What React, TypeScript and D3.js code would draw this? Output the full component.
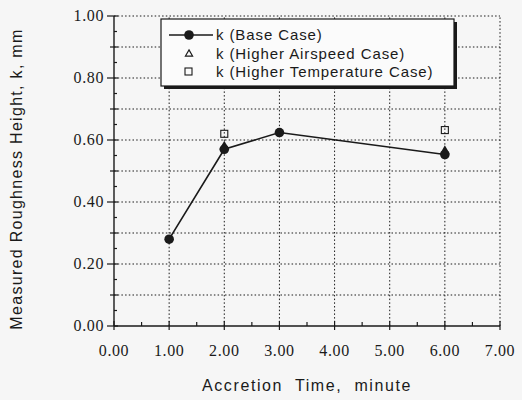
import React from "react";
import * as d3 from "d3";

const baseTimes = [1, 2, 3, 6];
const baseK = [0.28, 0.57, 0.624, 0.553];
const airTimes = [2, 6];
const airK = [0.58, 0.565];
const tempTimes = [2, 6];
const tempK = [0.62, 0.632];
const xTicks = [0, 1, 2, 3, 4, 5, 6, 7];
const yTicks = [0, 0.2, 0.4, 0.6, 0.8, 1.0];
const legendLabels = ["k (Base Case)", "k (Higher Airspeed Case)", "k (Higher Temperature Case)"];
const xTitle = "Accretion  Time,  minute";
const yTitle = "Measured Roughness Height, k, mm";

export default function App() {
  const W = 522, H = 400;
  const x = d3.scaleLinear().domain([0, 7]).range([114, 500]);
  const y = d3.scaleLinear().domain([0, 1]).range([326, 16]);
  const ink = "#1a1a1a";
  const line = d3.line<number>().x((_, i) => x(baseTimes[i])).y((d) => y(d));
  const gridY = d3.range(1, 11).map((i) => i / 10);
  const minorY = d3.range(0, 21).map((i) => i / 20);
  const minorX = d3.range(0, 15).map((i) => i / 2);
  const tri = d3.symbol().type(d3.symbolTriangle).size(40)();
  const serif = "'Liberation Serif', 'Times New Roman', serif";
  const sans = "'Liberation Sans', Arial, sans-serif";
  const lx = 161, ly = 19, lw = 293, lh = 67;
  return (
    <svg width={W} height={H} style={{ position: "absolute", left: 0, top: 0, background: "#f6f6f6" }}>
      <rect x={0} y={0} width={W} height={H} fill="#f6f6f6" />
      {/* grid */}
      {gridY.map((v) => (
        <line key={"gy" + v} x1={x(0)} x2={x(7)} y1={y(v)} y2={y(v)} stroke={ink} strokeWidth={1} strokeDasharray="1.5,2.2" />
      ))}
      {xTicks.slice(1).map((v) => (
        <line key={"gx" + v} x1={x(v)} x2={x(v)} y1={y(0)} y2={y(1)} stroke={ink} strokeWidth={1} strokeDasharray="1.5,2.2" />
      ))}
      {/* axes */}
      <line x1={x(0)} x2={x(0)} y1={y(0)} y2={y(1)} stroke={ink} strokeWidth={1.4} />
      <line x1={x(0)} x2={x(7)} y1={y(0)} y2={y(0)} stroke={ink} strokeWidth={1.4} />
      {minorY.map((v, i) => (
        <line key={"ty" + i} x1={i % 4 === 0 ? x(0) - 7 : i % 2 === 0 ? x(0) - 4 : x(0)} x2={x(0) + (i % 2 === 0 ? 4 : 3)} y1={y(v)} y2={y(v)} stroke={ink} strokeWidth={1.2} />
      ))}
      {minorX.map((v, i) => (
        <line key={"tx" + i} x1={x(v)} x2={x(v)} y1={y(0) + (i % 2 === 0 ? 4 : 0)} y2={y(0) - (i % 2 === 0 ? 5 : 4)} stroke={ink} strokeWidth={1.2} />
      ))}
      {yTicks.map((v) => (
        <text key={"yl" + v} x={x(0) - 10} y={y(v) + 5} textAnchor="end" fontFamily={serif} fontSize={16} letterSpacing={0.6} fill={ink}>
          {v.toFixed(2)}
        </text>
      ))}
      {xTicks.map((v) => (
        <text key={"xl" + v} x={x(v)} y={y(0) + 30} textAnchor="middle" fontFamily={serif} fontSize={16} letterSpacing={0.6} fill={ink}>
          {v.toFixed(2)}
        </text>
      ))}
      {/* data */}
      <path d={line(baseK) || ""} fill="none" stroke={ink} strokeWidth={1.6} />
      {airK.map((v, i) => (
        <path key={"a" + i} d={tri || ""} transform={`translate(${x(airTimes[i])},${y(v)})`} fill={ink} />
      ))}
      {baseK.map((v, i) => (
        <circle key={"b" + i} cx={x(baseTimes[i])} cy={y(v)} r={4.8} fill={ink} />
      ))}
      {tempK.map((v, i) => (
        <rect key={"t" + i} x={x(tempTimes[i]) - 3.5} y={y(v) - 3.5} width={7} height={7} fill="none" stroke={ink} strokeWidth={1.1} />
      ))}
      {/* legend */}
      <rect x={lx + 3} y={ly + 3} width={lw} height={lh} fill={ink} />
      <rect x={lx} y={ly} width={lw} height={lh} fill="#fbfbfb" stroke={ink} strokeWidth={1.2} />
      <line x1={lx + 8} x2={lx + 52} y1={ly + 16} y2={ly + 16} stroke={ink} strokeWidth={1.6} />
      <circle cx={lx + 28} cy={ly + 16} r={4.8} fill={ink} />
      <path d={d3.symbol().type(d3.symbolTriangle).size(22)() || ""} transform={`translate(${lx + 28},${ly + 35})`} fill="none" stroke={ink} strokeWidth={1.2} />
      <rect x={lx + 24} y={ly + 49} width={7} height={7} fill="none" stroke={ink} strokeWidth={1.1} />
      {legendLabels.map((t, i) => (
        <text key={"lg" + i} x={lx + 55} y={ly + 21 + i * 18.5} fontFamily={sans} fontSize={15} letterSpacing={0.9} fill={ink}>
          {t}
        </text>
      ))}
      {/* titles */}
      <text x={307} y={391} textAnchor="middle" fontFamily={sans} fontSize={16} letterSpacing={1.6} fill={ink} style={{ whiteSpace: "pre" }}>
        {xTitle}
      </text>
      <text transform={`translate(22,179) rotate(-90)`} textAnchor="middle" fontFamily={sans} fontSize={16} letterSpacing={1.3} fill={ink}>
        {yTitle}
      </text>
    </svg>
  );
}
